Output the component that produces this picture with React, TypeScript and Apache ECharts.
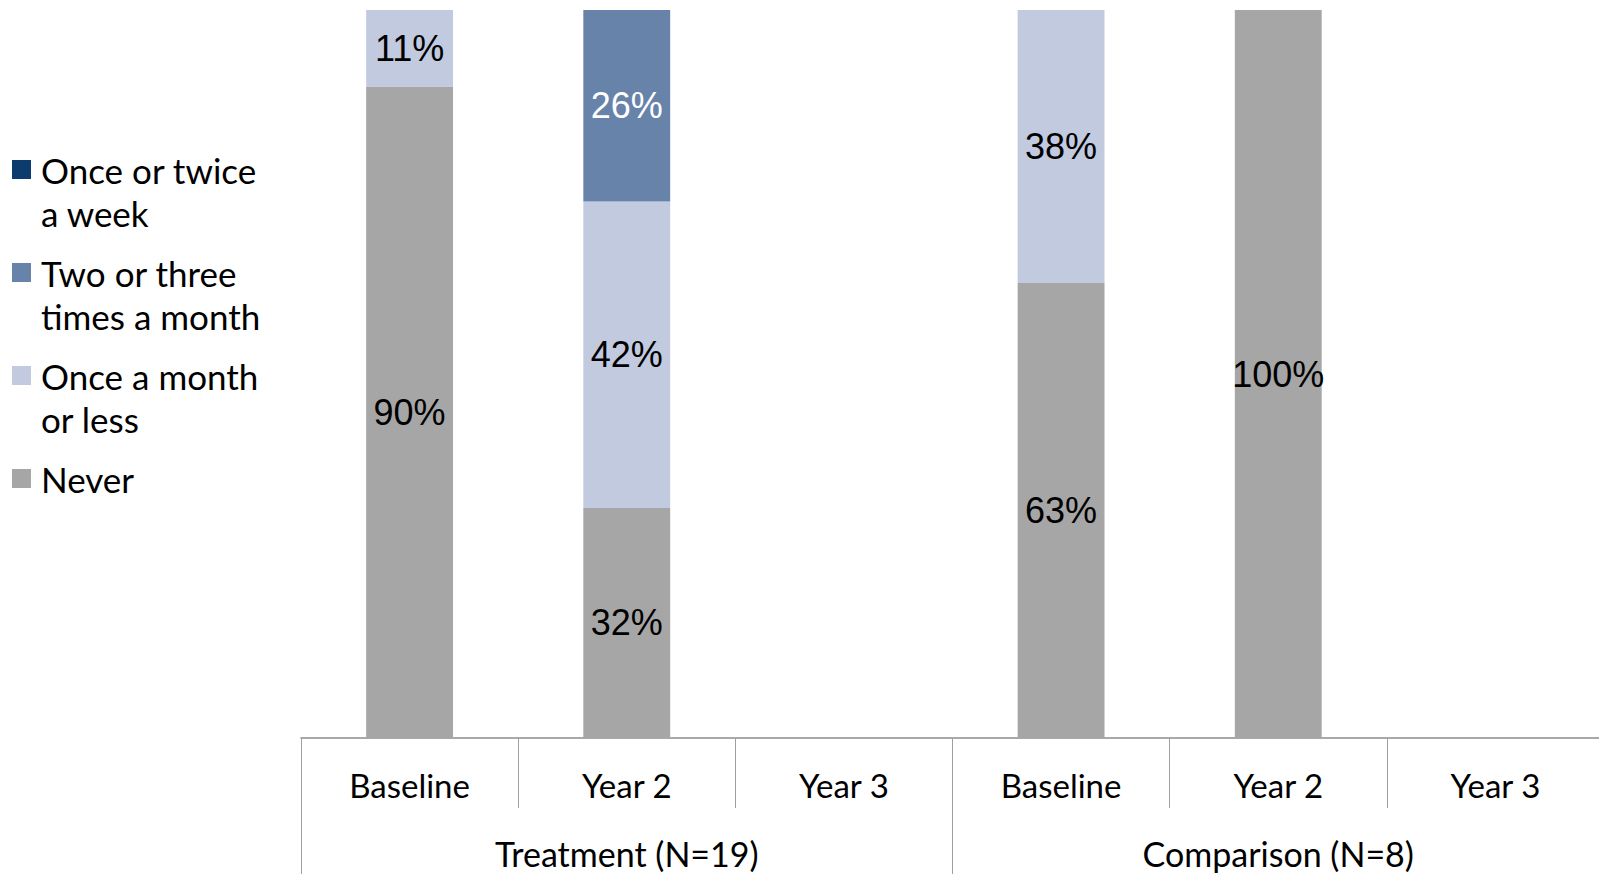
import React, { useEffect, useRef } from "react";
import * as echarts from "echarts";

const categories = ["Baseline", "Year 2", "Year 3", "Baseline", "Year 2", "Year 3"];
const groups = ["Treatment (N=19)", "Comparison (N=8)"];
const seriesNames = ["Never", "Once a month or less", "Two or three times a month", "Once or twice a week"];
const legendOrder = ["Once or twice a week", "Two or three times a month", "Once a month or less", "Never"];
const legendLabels: Record<string, string> = {
  "Once or twice a week": "Once or twice\na week",
  "Two or three times a month": "Two or three\ntimes a month",
  "Once a month or less": "Once a month\nor less",
  "Never": "Never\n ",
};
const never = [89.5, 31.6, null, 62.5, 100, null];
const onceMonthOrLess = [10.5, 42.1, null, 37.5, null, null];
const twoOrThreeMonth = [null, 26.3, null, null, null, null];
const onceOrTwiceWeek = [null, null, null, null, null, null];
const seriesValues = [never, onceMonthOrLess, twoOrThreeMonth, onceOrTwiceWeek];
const seriesColors = ["#A6A6A6", "#C1CADF", "#6883A9", "#0B3C6D"];
const labelColors = ["#000000", "#000000", "#FFFFFF", "#FFFFFF"];

const axisFont = "Lato, 'Open Sans', sans-serif";
const dataFont = "'Liberation Sans', Arial, sans-serif";

export default function App() {
  const ref = useRef<HTMLDivElement>(null);
  useEffect(() => {
    if (!ref.current) return;
    const chart = echarts.init(ref.current, undefined, { renderer: "svg" });
    const legendIcon =
      "path://M0,0h0.01v0.01h-0.01z M0,12h19v19h-19z M23.99,85.99h0.01v0.01h-0.01z";
    chart.setOption({
      animation: false,
      backgroundColor: "#ffffff",
      grid: {
        left: 301,
        width: 1303,
        top: 10,
        bottom: 136,
        containLabel: false,
        outerBoundsMode: "none",
      },
      legend: {
        orient: "vertical",
        left: 12,
        top: 148,
        padding: 0,
        itemGap: 17,
        itemWidth: 24,
        itemHeight: 86,
        icon: legendIcon,
        selectedMode: false,
        data: legendOrder,
        formatter: (name: string) => legendLabels[name] ?? name,
        textStyle: { fontFamily: axisFont, fontSize: 35, lineHeight: 43, color: "#000000" },
      },
      xAxis: [
        {
          type: "category",
          data: categories,
          position: "bottom",
          axisLine: { show: true, lineStyle: { color: "#8C8C8C", width: 1.5 } },
          axisTick: { show: true, length: 70, interval: 0, lineStyle: { color: "#A0A0A0", width: 1 } },
          axisLabel: {
            interval: 0,
            margin: 27,
            fontFamily: axisFont,
            fontSize: 33,
            lineHeight: 40,
            color: "#000000",
          },
        },
        {
          type: "category",
          data: groups,
          position: "bottom",
          offset: 0,
          axisLine: { show: false },
          axisTick: { show: true, length: 136, interval: 0, lineStyle: { color: "#A0A0A0", width: 1 } },
          axisLabel: {
            interval: 0,
            margin: 95,
            fontFamily: axisFont,
            fontSize: 34,
            lineHeight: 40,
            color: "#000000",
          },
        },
      ],
      yAxis: { type: "value", min: 0, max: 100, show: false, splitLine: { show: false } },
      series: seriesNames.map((name, i) => ({
        name,
        type: "bar",
        stack: "total",
        xAxisIndex: 0,
        barWidth: "40%",
        clip: true,
        data: seriesValues[i],
        itemStyle: { color: seriesColors[i] },
        label: {
          show: true,
          position: "inside",
          formatter: (p: any) => (p.value == null ? "" : Math.round(p.value) + "%"),
          fontFamily: dataFont,
          fontSize: 36,
          color: labelColors[i],
        },
        emphasis: { disabled: true },
      })),
    });
    return () => chart.dispose();
  }, []);
  return (
    <div
      ref={ref}
      style={{ position: "fixed", left: 0, top: 0, width: 1599, height: 874, background: "#fff" }}
    />
  );
}
